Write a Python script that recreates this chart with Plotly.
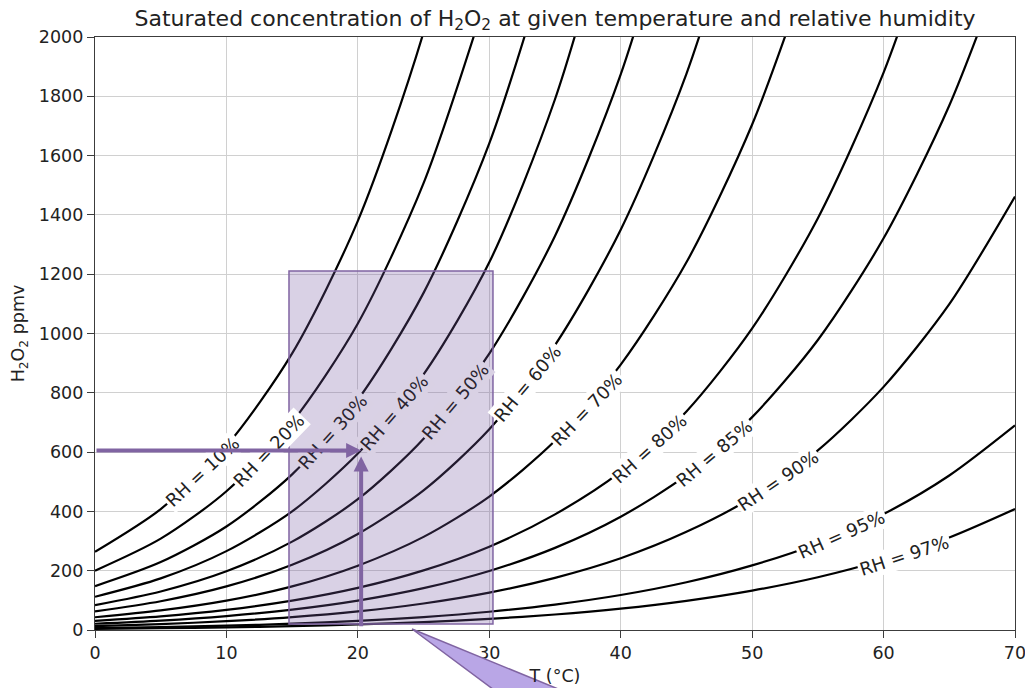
import plotly.graph_objects as go

# Temperature grid (°C)
T = [0, 5, 10, 15, 20, 25, 30, 35, 40, 45, 50, 55, 60, 65, 70]

# H2O2 ppmv (series end once past the 2000 ppm top)
rh10 = [264, 408, 621, 933, 1380, 2016, 2907]
rh20 = [200, 308, 468, 701, 1034, 1507, 2167]
rh30 = [148, 229, 349, 525, 777, 1137, 1641, 2341]
rh40 = [112, 174, 266, 400, 595, 862, 1240, 1790, 2550]
rh50 = [84, 130, 198, 298, 441, 645, 932, 1329, 1874, 2615]
rh60 = [63, 97, 147, 220, 324, 471, 677, 961, 1350, 1876, 2580]
rh70 = [43, 66, 99, 147, 217, 314, 450, 638, 895, 1240, 1705, 2320]
rh80 = [31, 46, 68, 99, 142, 201, 281, 390, 534, 737, 1017, 1389, 1880, 2521]
rh85 = [21, 31.6, 46.9, 68.5, 99, 141, 199, 277, 382, 522, 718, 978, 1321, 1769, 2349]
rh90 = [13.3, 20, 29.7, 43.4, 62.7, 89.4, 126, 176, 242, 331, 447, 606, 820, 1099, 1462]
rh95 = [6.5, 9.8, 14.5, 21.2, 30.6, 43.7, 61.6, 85.8, 118, 161, 218, 292, 391, 521, 690]
rh97 = [4.0, 6.0, 8.8, 12.9, 18.7, 26.6, 37.5, 52.3, 72.1, 98.5, 133, 178, 237, 312, 408]

series = [rh10, rh20, rh30, rh40, rh50, rh60, rh70, rh80, rh85, rh90, rh95, rh97]

# Inline contour labels: text, T, ppm, angle (deg, counter-clockwise)
label_text = ["RH = 10%", "RH = 20%", "RH = 30%", "RH = 40%", "RH = 50%", "RH = 60%",
              "RH = 70%", "RH = 80%", "RH = 85%", "RH = 90%", "RH = 95%", "RH = 97%"]
label_T = [8.2, 13.2, 18.1, 22.8, 27.4, 32.9, 37.4, 42.2, 47.1, 52.0, 56.8, 61.6]
label_ppm = [535, 607, 670, 733, 771, 832, 745, 612, 595, 503, 323, 250]
label_angle = [43, 46, 48, 49, 50, 50, 46, 42, 40, 34, 24, 18]
label_in_box = [False, False, True, True, True, False, False, False, False, False, False, False]

# Highlighted region and arrows
box_T = [14.76, 30.28]
box_ppm = [20, 1211]
arrow_T = 20.25
arrow_ppm = 605

x_ticks = [0, 10, 20, 30, 40, 50, 60, 70]
y_ticks = [0, 200, 400, 600, 800, 1000, 1200, 1400, 1600, 1800, 2000]

PURPLE = "#8064A2"
FONT = "DejaVu Sans"

fig = go.Figure()
for vals in series:
    fig.add_trace(go.Scatter(
        x=T[:len(vals)], y=vals, mode="lines",
        line=dict(color="black", width=2.2, shape="spline", smoothing=0.8),
        showlegend=False, hoverinfo="skip"))

# shaded rectangle
fig.add_shape(type="rect", xref="x", yref="y",
              x0=box_T[0], x1=box_T[1], y0=box_ppm[0], y1=box_ppm[1],
              fillcolor="rgba(120,90,160,0.28)",
              line=dict(color=PURPLE, width=1.5), layer="above")

# callout pointer below the axis
fig.add_shape(type="path", xref="paper", yref="paper",
              path="M 0.3446,0.0017 L 0.5326,-0.118 L 0.4484,-0.118 Z",
              fillcolor="#b9a6e6", line=dict(color=PURPLE, width=1.5), layer="above")

for txt, tx, ty, ang, inbox in zip(label_text, label_T, label_ppm, label_angle, label_in_box):
    fig.add_annotation(x=tx, y=ty, xref="x", yref="y", text=txt, showarrow=False,
                       textangle=-ang,
                       font=dict(family=FONT, size=18, color="#2a2430" if inbox else "#222222"),
                       bgcolor="#d9d1e4" if inbox else "white", borderpad=1)

# arrows
fig.add_annotation(x=arrow_T, y=arrow_ppm, ax=0, ay=arrow_ppm,
                   xref="x", yref="y", axref="x", ayref="y", text="",
                   showarrow=True, arrowhead=2, arrowsize=0.75, arrowwidth=4,
                   arrowcolor=PURPLE, standoff=0)
fig.add_annotation(x=arrow_T, y=585, ax=arrow_T, ay=8,
                   xref="x", yref="y", axref="x", ayref="y", text="",
                   showarrow=True, arrowhead=2, arrowsize=0.75, arrowwidth=4,
                   arrowcolor=PURPLE, standoff=0)

axis_common = dict(showgrid=True, gridcolor="#d0d0d0", gridwidth=1.4,
                   showline=True, linecolor="#3c3c3c", linewidth=1.3, mirror=True,
                   ticks="outside", ticklen=7, tickwidth=1.3, tickcolor="#3c3c3c",
                   zeroline=False, ticklabeloverflow="allow",
                   tickfont=dict(family=FONT, size=17.5, color="#222222"))

fig.update_xaxes(range=[0, 70], tickvals=x_ticks, **axis_common,
                 title=dict(text="T (°C)", font=dict(family=FONT, size=17.5, color="#222222"), standoff=7))
fig.update_yaxes(range=[0, 2000], tickvals=y_ticks, **axis_common,
                 title=dict(text="H<sub>2</sub>O<sub>2</sub> ppmv", font=dict(family=FONT, size=17.5, color="#222222"), standoff=9))

fig.update_layout(
    width=1025, height=688,
    margin=dict(l=95, r=10, t=37, b=58, autoexpand=False),
    paper_bgcolor="white", plot_bgcolor="white",
    title=dict(text="Saturated concentration of H<sub>2</sub>O<sub>2</sub> at given temperature and relative humidity",
               font=dict(family=FONT, size=22, color="#222222"),
               x=0.5415, xanchor="center", yref="container", y=1 - 18 / 688, yanchor="middle"),
    showlegend=False,
)

fig.write_html("out.html")
